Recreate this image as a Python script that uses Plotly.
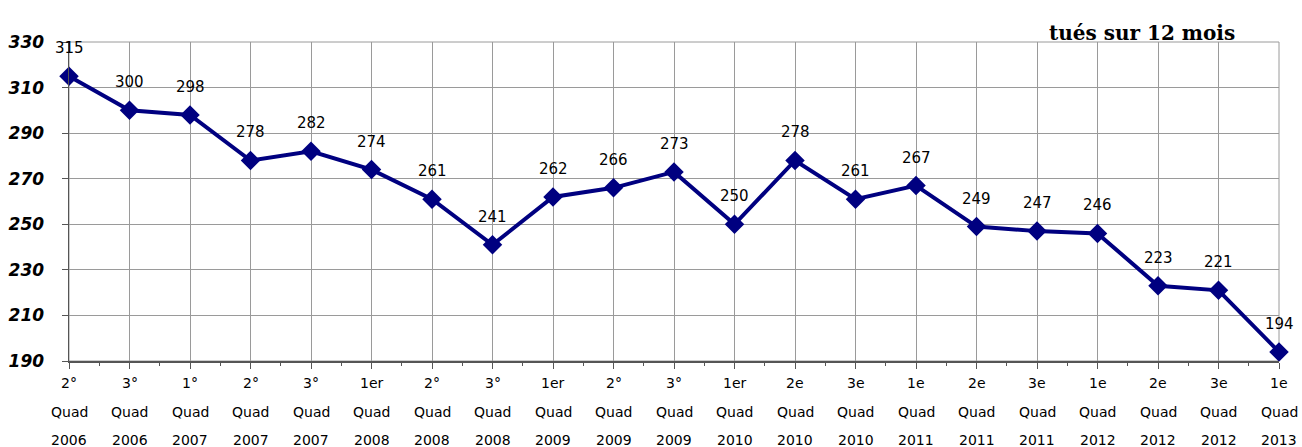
import plotly.graph_objects as go

quad = ["2°", "3°", "1°", "2°", "3°", "1er", "2°", "3°", "1er", "2°", "3°", "1er",
        "2e", "3e", "1e", "2e", "3e", "1e", "2e", "3e", "1e"]
years = ["2006", "2006", "2007", "2007", "2007", "2008", "2008", "2008", "2009", "2009", "2009", "2010",
         "2010", "2010", "2011", "2011", "2011", "2012", "2012", "2012", "2013"]
values = [315, 300, 298, 278, 282, 274, 261, 241, 262, 266, 273, 250,
          278, 261, 267, 249, 247, 246, 223, 221, 194]
y_ticks = [190, 210, 230, 250, 270, 290, 310, 330]
title_text = "tués sur 12 mois"

idx = list(range(len(values)))
navy = "#000080"
sans = "DejaVu Sans, Arial"

fig = go.Figure()
fig.add_trace(go.Scatter(
    x=idx, y=values, mode="lines+markers",
    line=dict(color=navy, width=4),
    marker=dict(symbol="diamond", size=15, color=navy),
    hoverinfo="skip", showlegend=False, cliponaxis=False,
))

annotations = []
for i, v in zip(idx, values):
    annotations.append(dict(x=i, y=v, xref="x", yref="y", text=str(v), showarrow=False,
                            yshift=28, font=dict(family=sans, size=15, color="#000")))
for i, (q, yr) in enumerate(zip(quad, years)):
    for txt, shift in ((q, -22), ("Quad", -51), (yr, -79)):
        annotations.append(dict(x=i, y=0, xref="x", yref="paper", text=txt, showarrow=False,
                                yshift=shift, yanchor="middle",
                                font=dict(family=sans, size=14, color="#000")))
annotations.append(dict(x=1.0, xanchor="right", xshift=-42, y=1.0, yanchor="middle", yshift=9,
                        xref="paper", yref="paper", text="<b>" + title_text + "</b>",
                        showarrow=False,
                        font=dict(family="DejaVu Serif, Times New Roman", size=20, color="#000")))

fig.update_layout(
    width=1302, height=447,
    margin=dict(l=69, r=23, t=42, b=86, autoexpand=False),
    paper_bgcolor="white", plot_bgcolor="white",
    annotations=annotations,
    xaxis=dict(
        range=[0, len(values) - 1], tickmode="array", tickvals=idx, showticklabels=False,
        showgrid=True, gridcolor="#9a9a9a", gridwidth=1,
        ticks="outside", ticklen=6, tickcolor="#555",
        showline=True, linecolor="#555", linewidth=1.5, mirror=False,
        zeroline=False, fixedrange=True, automargin=False,
        minor=dict(tick0=0.5, dtick=1, ticks="outside", ticklen=3, tickcolor="#555", showgrid=False),
    ),
    yaxis=dict(
        range=[190, 330], tickmode="array", tickvals=y_ticks,
        ticktext=["<b><i>%d</i></b>" % t for t in y_ticks],
        tickfont=dict(family=sans, size=17, color="#000"),
        ticklabelstandoff=14, automargin=False,
        showgrid=True, gridcolor="#9a9a9a", gridwidth=1,
        ticks="outside", ticklen=6, tickcolor="#555",
        showline=True, linecolor="#555", linewidth=1.5, mirror=False,
        zeroline=False, fixedrange=True,
    ),
)
fig.add_shape(type="rect", xref="paper", yref="paper", x0=0, y0=0, x1=1, y1=1,
              line=dict(color="#9a9a9a", width=1), layer="below")

fig.write_html(
    "out.html",
    config={"displayModeBar": False, "staticPlot": True},
    post_script=("document.body.style.margin='0';"
                 "document.body.style.overflow='hidden';"
                 "document.documentElement.style.overflow='hidden';"),
)
